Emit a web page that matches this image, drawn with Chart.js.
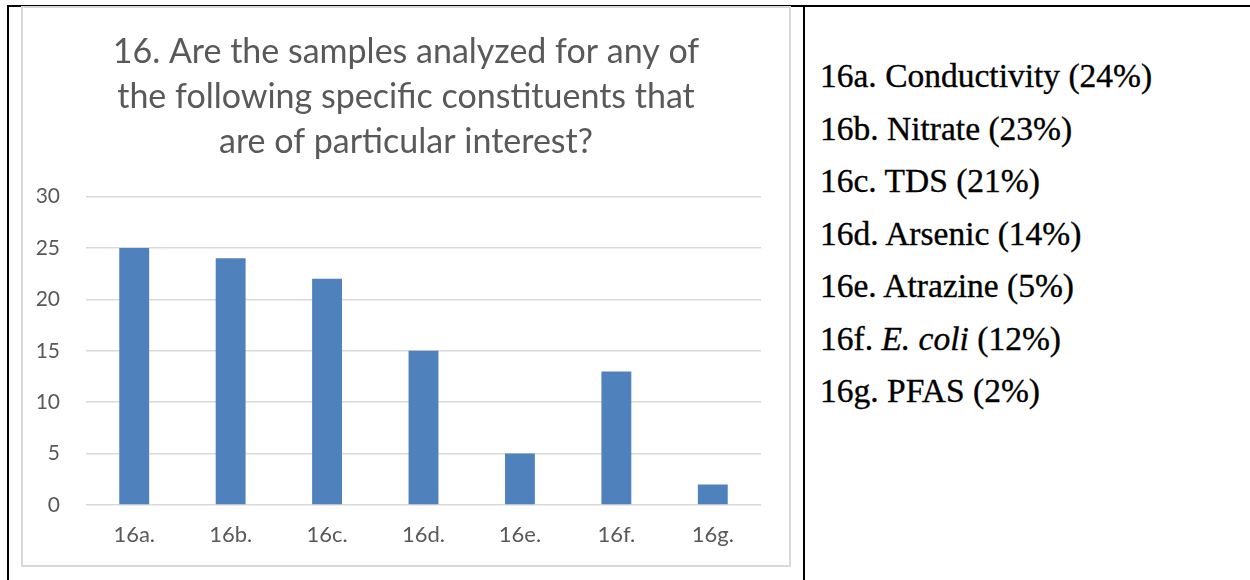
<!DOCTYPE html>
<html>
<head>
<meta charset="utf-8">
<script src="https://cdn.jsdelivr.net/npm/chart.js@4.4.1/dist/chart.umd.min.js"></script>
<style>
  html, body { margin: 0; padding: 0; background: #fff; width: 1250px; height: 580px; overflow: hidden; }
  .line { position: absolute; background: #000; }
  #box { position: absolute; left: 21px; top: 6px; width: 766px; height: 557px; border: 2px solid #d9d9d9; }
  #box canvas { position: absolute; left: 0; top: 0; }
  #list { position: absolute; left: 820px; top: 50px; font-family: "Liberation Serif", "DejaVu Serif", serif; font-size: 33.5px; color: #000; -webkit-text-stroke: 0.35px #000; }
  #list div { height: 52.5px; line-height: 52.5px; white-space: nowrap; }
</style>
</head>
<body>
<div class="line" style="left:7px; top:5px; width:1243px; height:2px;"></div>
<div class="line" style="left:7px; top:5px; width:2px; height:575px;"></div>
<div class="line" style="left:803px; top:5px; width:2px; height:575px;"></div>
<div id="box"><canvas id="c" width="766" height="557"></canvas></div>
<div id="list"></div>
<script>
const titleLines = ["16. Are the samples analyzed for any of", "the following specific constituents that", "are of particular interest?"];
const categories = ["16a.", "16b.", "16c.", "16d.", "16e.", "16f.", "16g."];
const counts = [25, 24, 22, 15, 5, 13, 2];
const yTicks = [0, 5, 10, 15, 20, 25, 30];
const listCodes = ["16a.", "16b.", "16c.", "16d.", "16e.", "16f.", "16g."];
const listNames = ["Conductivity", "Nitrate", "TDS", "Arsenic", "Atrazine", "E. coli", "PFAS"];
const listItalic = [false, false, false, false, false, true, false];
const listPercents = ["24%", "23%", "21%", "14%", "5%", "12%", "2%"];

const list = document.getElementById('list');
listCodes.forEach((code, i) => {
  const d = document.createElement('div');
  d.append(code + ' ');
  if (listItalic[i]) { const em = document.createElement('i'); em.textContent = listNames[i]; d.append(em); }
  else d.append(listNames[i]);
  d.append(' (' + listPercents[i] + ')');
  list.appendChild(d);
});

const gray = '#595959';
new Chart(document.getElementById('c'), {
  type: 'bar',
  data: {
    labels: categories,
    datasets: [{
      data: counts,
      backgroundColor: '#4f81bd',
      borderWidth: 0,
      barPercentage: 0.62,
      categoryPercentage: 0.5
    }]
  },
  options: {
    responsive: false,
    animation: false,
    devicePixelRatio: 1,
    layout: { padding: 0 },
    plugins: {
      legend: { display: false },
      tooltip: { enabled: false },
      title: {
        display: true,
        text: titleLines,
        color: gray,
        font: { family: 'Lato, "Open Sans", sans-serif', size: 34, weight: 'normal', lineHeight: 1.32 },
        padding: { top: 22, bottom: 32 }
      }
    },
    scales: {
      x: {
        grid: { display: false, drawTicks: false },
        border: { display: false },
        ticks: { color: gray, font: { family: 'Lato, "Open Sans", sans-serif', size: 22 }, padding: 17 },
        afterFit: (s) => { s.height = 60; }
      },
      y: {
        min: 0, max: 30,
        afterBuildTicks: (s) => { s.ticks = yTicks.map(v => ({ value: v })); },
        grid: { color: '#d9d9d9', lineWidth: 1.5, drawTicks: false },
        border: { display: false },
        ticks: { color: gray, font: { family: 'Lato, "Open Sans", sans-serif', size: 21 }, padding: 26 },
        afterFit: (s) => { s.width = 63; }
      },
      yRight: {
        position: 'right',
        min: 0, max: 30,
        grid: { display: false, drawTicks: false },
        border: { display: false },
        ticks: { display: false },
        afterFit: (s) => { s.width = 28; }
      }
    }
  }
});
</script>
</body>
</html>
